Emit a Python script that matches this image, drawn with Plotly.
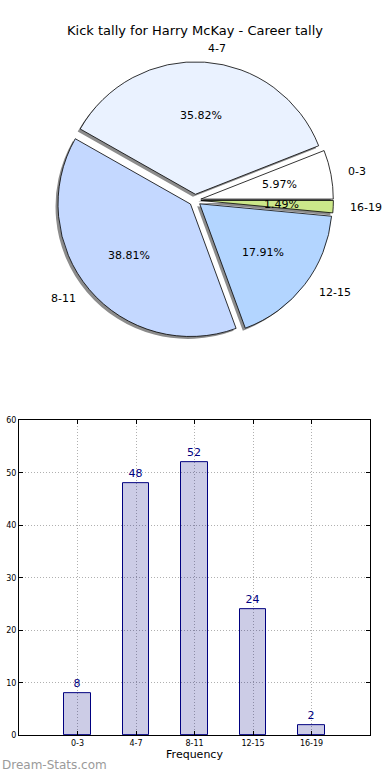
import math
import plotly.graph_objects as go

# ---- data ----
categories = ["0-3", "4-7", "8-11", "12-15", "16-19"]
counts = [8, 48, 52, 24, 2]
pie_colors = ["#ffffff", "#eaf2ff", "#c4d8ff", "#b3d5ff", "#cce88a"]
title_text = "Kick tally for Harry McKay - Career tally"

W, H = 390, 780
FONT = "DejaVu Sans"

# pie geometry (pixels)
cx, cy = 195.0, 198.5
r = 134.0
pull_px = 6.0
pull = pull_px / r
half = r * (1 + pull)
shadow_dx, shadow_dy = -2.5, 2.5

total = sum(counts)
# start first slice at 3 o'clock, going counterclockwise (matplotlib style)
rotation = 90 - 360.0 * counts[0] / total


def dom(cxp, cyp):
    return dict(x=[(cxp - half) / W, (cxp + half) / W],
                y=[1 - (cyp + half) / H, 1 - (cyp - half) / H])


fig = go.Figure()

# shadow
fig.add_trace(go.Pie(
    labels=categories, values=counts, sort=False, direction="counterclockwise",
    rotation=rotation, pull=[pull] * len(counts), textinfo="none", hoverinfo="skip",
    marker=dict(colors=["#8c8c8c"] * len(counts), line=dict(width=0)),
    domain=dom(cx + shadow_dx, cy + shadow_dy), showlegend=False,
))
# main pie
fig.add_trace(go.Pie(
    labels=categories, values=counts, sort=False, direction="counterclockwise",
    rotation=rotation, pull=[pull] * len(counts), textinfo="none",
    marker=dict(colors=pie_colors, line=dict(color="black", width=0.8)),
    domain=dom(cx, cy), showlegend=False,
))

# labels & percentages placed like matplotlib (label at 1.1 r, pct at 0.6 r)
annotations = []
start = 0.0
for cat, v in zip(categories, counts):
    frac = v / total
    mid = (start + frac / 2) * 2 * math.pi
    start += frac
    c, s = math.cos(mid), math.sin(mid)
    sx, sy = cx + pull_px * c, cy - pull_px * s
    lx, ly = sx + 1.1 * r * c, sy - 1.1 * r * s
    px_, py_ = sx + 0.6 * r * c, sy - 0.6 * r * s
    annotations.append(dict(
        x=lx / W, y=1 - ly / H, xref="paper", yref="paper", text=cat,
        showarrow=False, xanchor="left" if c > 0 else "right", yanchor="middle",
        font=dict(family=FONT, size=11, color="black")))
    annotations.append(dict(
        x=px_ / W, y=1 - py_ / H, xref="paper", yref="paper",
        text=f"{frac * 100:.2f}%", showarrow=False, xanchor="center",
        yanchor="middle", font=dict(family=FONT, size=11, color="black")))

# bar chart
fig.add_trace(go.Bar(
    x=categories, y=counts, width=0.45,
    marker=dict(color="rgba(0,0,128,0.2)", line=dict(color="#000080", width=1)),
    text=[str(v) for v in counts], textposition="outside",
    textfont=dict(family=FONT, size=11, color="#000080"), cliponaxis=False,
    xaxis="x", yaxis="y", showlegend=False,
))

annotations.append(dict(
    x=0.0, y=1 - 770 / H, xref="paper", yref="paper", text="Dream-Stats.com",
    showarrow=False, xanchor="left", yanchor="middle",
    font=dict(family=FONT, size=12, color="#9a9a9a")))

axis_common = dict(
    showline=True, linecolor="black", linewidth=1, mirror="ticks",
    ticks="inside", ticklen=4, tickcolor="black",
    showgrid=True, gridcolor="#b0b0b0", griddash="1px,2px", gridwidth=1,
    zeroline=False, tickfont=dict(family=FONT, size=8, color="black"),
)

fig.update_layout(
    width=W, height=H, autosize=False, margin=dict(l=0, r=0, t=0, b=0),
    paper_bgcolor="white", plot_bgcolor="white",
    font=dict(family=FONT, color="black"),
    title=dict(text=title_text, x=0.5, xanchor="center", y=1 - 30 / H,
               yanchor="middle", font=dict(family=FONT, size=13, color="black")),
    xaxis=dict(domain=[19 / W, 370 / W], anchor="y", type="category",
               range=[-1, len(categories)],
               title=dict(text="Frequency", standoff=2,
                          font=dict(family=FONT, size=11, color="black")),
               **axis_common),
    yaxis=dict(domain=[1 - 740 / H, 1 - 421 / H], anchor="x", range=[0, 60],
               dtick=10, **axis_common),
    annotations=annotations,
    bargap=0,
)

fig.write_html(
    "out.html",
    config={"displayModeBar": False, "responsive": False},
    post_script="document.body.style.margin='0';document.body.style.overflow='hidden';",
)
